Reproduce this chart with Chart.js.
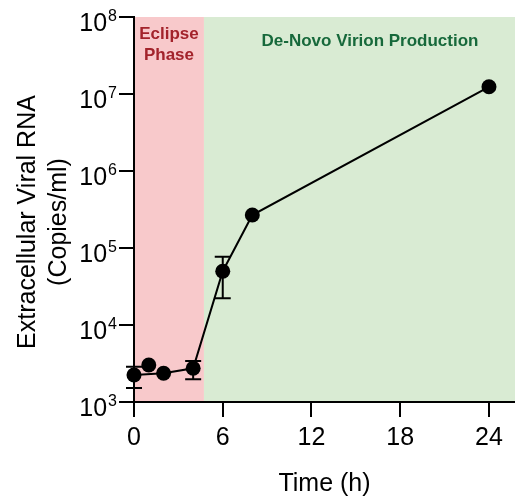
<!DOCTYPE html>
<html>
<head>
<meta charset="utf-8">
<script src="https://cdn.jsdelivr.net/npm/chart.js@4.4.1/dist/chart.umd.min.js"></script>
<style>
  html, body { margin: 0; padding: 0; background: #fff; }
  #wrap { width: 515px; height: 502px; }
</style>
</head>
<body>
<div id="wrap"><canvas id="chart"></canvas></div>
<script>
// data
var times    = [0, 1, 2, 4, 6, 8, 24];
var copies   = [2240, 3020, 2360, 2740, 50000, 268000, 12400000];
var errLow   = [1520, null, null, 1970, 22200, null, null];
var errHigh  = [2870, null, null, 3400, 77000, null, null];
var joined   = [true, false, true, true, true, true, true];   // t=1 sits off the line
var xTicks   = [0, 6, 12, 18, 24];
var yTicks   = [1e3, 1e4, 1e5, 1e6, 1e7, 1e8];
var eclipseEnd = 4.73;
var xMax       = 25.76;

var FONT = '"Liberation Sans", Arial, Helvetica, sans-serif';
var pink  = '#f8c9cb';
var green = '#d9ebd3';

var points = times.map(function (t, i) { return { x: t, y: copies[i] }; });
var linePts = points.filter(function (p, i) { return joined[i]; });

var phases = {
    id: 'phases',
    beforeDraw: function (chart) {
        var c = chart.ctx, a = chart.chartArea, xs = chart.scales.x;
        var x0 = xs.getPixelForValue(0), x1 = xs.getPixelForValue(eclipseEnd);
        c.save();
        c.fillStyle = pink;
        c.fillRect(x0, a.top, x1 - x0, a.bottom - a.top);
        c.fillStyle = green;
        c.fillRect(x1, a.top, a.right - x1, a.bottom - a.top);

        c.font = 'bold 17px ' + FONT;
        c.textAlign = 'center';
        c.textBaseline = 'middle';
        c.fillStyle = '#a3232b';
        c.fillText('Eclipse', (x0 + x1) / 2, a.top + 17);
        c.fillText('Phase', (x0 + x1) / 2, a.top + 38);
        c.fillStyle = '#17693b';
        c.fillText('De-Novo Virion Production', 370, a.top + 24);
        c.restore();
    }
};

var extras = {
    id: 'extras',
    afterDatasetsDraw: function (chart) {
        var c = chart.ctx, xs = chart.scales.x, ys = chart.scales.y;
        c.save();
        c.strokeStyle = '#000';
        c.lineWidth = 2;
        times.forEach(function (t, i) {
            if (errLow[i] == null) return;
            var px = xs.getPixelForValue(t);
            var lo = ys.getPixelForValue(errLow[i]), hi = ys.getPixelForValue(errHigh[i]);
            c.beginPath();
            c.moveTo(px, lo); c.lineTo(px, hi);
            c.moveTo(px - 8, lo); c.lineTo(px + 8, lo);
            c.moveTo(px - 8, hi); c.lineTo(px + 8, hi);
            c.stroke();
        });
        c.restore();
    },
    afterDraw: function (chart) {
        var c = chart.ctx, ys = chart.scales.y;
        c.save();
        c.fillStyle = '#000';
        c.textBaseline = 'alphabetic';
        yTicks.forEach(function (v) {
            var py = ys.getPixelForValue(v);
            var exp = String(Math.round(Math.log10(v)));
            c.font = '16px ' + FONT;
            c.textAlign = 'right';
            c.fillText(exp, 117, py + 4);
            var w = c.measureText(exp).width;
            c.font = '25px ' + FONT;
            c.fillText('10', 117 - w - 1, py + 14);
        });
        // y axis title, two lines
        c.font = '25px ' + FONT;
        c.textAlign = 'center';
        c.translate(0, 222);
        c.rotate(-Math.PI / 2);
        c.fillText('Extracellular Viral RNA', 0, 35);
        c.fillText('(Copies/ml)', 0, 66);
        c.restore();
    }
};

new Chart(document.getElementById('chart').getContext('2d'), {
    type: 'scatter',
    data: {
        datasets: [{
            data: linePts,
            showLine: true,
            borderColor: '#000',
            borderWidth: 2,
            pointRadius: 0,
            clip: false
        }, {
            data: points,
            pointRadius: 7.5,
            pointHoverRadius: 7.5,
            backgroundColor: '#000',
            borderWidth: 0,
            clip: false
        }]
    },
    options: {
        responsive: true,
        maintainAspectRatio: false,
        animation: false,
        layout: { autoPadding: false, padding: { top: 17, right: 0, left: 0, bottom: 0 } },
        plugins: { legend: { display: false }, tooltip: { enabled: false } },
        scales: {
            x: {
                type: 'linear',
                min: 0,
                max: xMax,
                afterBuildTicks: function (s) { s.ticks = xTicks.map(function (v) { return { value: v }; }); },
                afterFit: function (s) { s.height = 100; s.paddingLeft = 0; s.paddingRight = 0; },
                grid: { drawOnChartArea: false, drawTicks: true, tickLength: 15, color: '#000', lineWidth: 2 },
                border: { display: true, color: '#000', width: 2 },
                ticks: { color: '#000', font: { family: FONT, size: 25 }, padding: 6, maxRotation: 0 },
                title: { display: true, text: 'Time (h)', color: '#000', font: { family: FONT, size: 25 }, padding: { top: 0, bottom: 3 } }
            },
            y: {
                type: 'logarithmic',
                min: 1e3,
                max: 1e8,
                afterBuildTicks: function (s) { s.ticks = yTicks.map(function (v) { return { value: v }; }); },
                afterFit: function (s) { s.width = 134; s.paddingTop = 0; s.paddingBottom = 0; },
                grid: { drawOnChartArea: false, drawTicks: true, tickLength: 15, color: '#000', lineWidth: 2 },
                border: { display: true, color: '#000', width: 2 },
                ticks: { callback: function () { return ''; } }
            }
        }
    },
    plugins: [phases, extras]
});
</script>
</body>
</html>
